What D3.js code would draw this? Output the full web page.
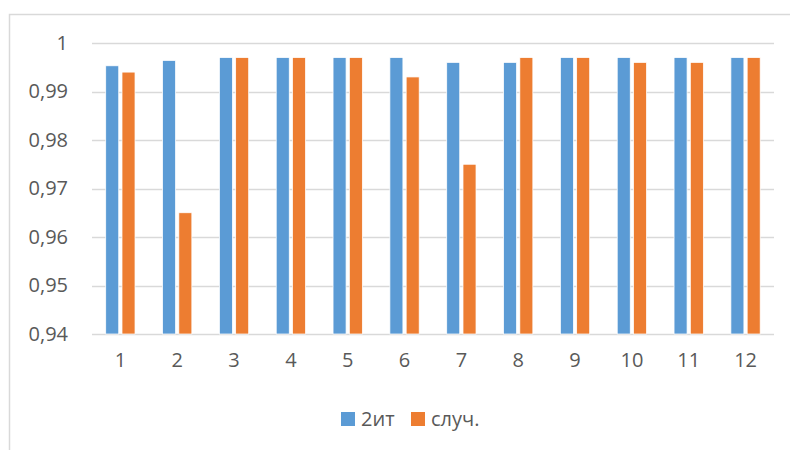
<!DOCTYPE html>
<html>
<head>
<meta charset="utf-8">
<script src="https://cdn.jsdelivr.net/npm/d3@7"></script>
<style>
  html, body { margin: 0; padding: 0; background: #fff; }
  svg { display: block; }
  text { font-family: "Open Sans", "Noto Sans", sans-serif; fill: #595959; }
</style>
</head>
<body>
<svg id="chart" width="790" height="450"></svg>
<script>
// Categories and series
const categories = ["1","2","3","4","5","6","7","8","9","10","11","12"];
const seriesNames = ["2ит", "случ."];
const values2it = [0.9953, 0.9964, 0.997, 0.997, 0.997, 0.997, 0.996, 0.996, 0.997, 0.997, 0.997, 0.997];
const valuesSluch = [0.994, 0.965, 0.997, 0.997, 0.997, 0.993, 0.975, 0.997, 0.997, 0.996, 0.996, 0.997];
const yTicks = [0.94, 0.95, 0.96, 0.97, 0.98, 0.99, 1];
const colors = ["#5B9BD5", "#ED7D31"];

const FONT = "\"Open Sans\", \"Noto Sans\", sans-serif";
const FONT_SIZE = 20;

const svg = d3.select("#chart");

// Chart frame
svg.append("rect")
  .attr("x", 9.5).attr("y", 14.5)
  .attr("width", 820).attr("height", 460)
  .attr("fill", "none").attr("stroke", "#d9d9d9").attr("stroke-width", 1.5);

const plot = { left: 92, right: 774, top: 43, bottom: 334 };

const x0 = d3.scaleBand().domain(categories).range([plot.left, plot.right]);
const x1 = d3.scaleBand().domain(seriesNames).range([-14.7, 14.6]).paddingInner(0.2);
const y = d3.scaleLinear().domain([0.94, 1]).range([plot.bottom, plot.top]);

const fmt = v => d3.format("")(v).replace(".", ",");

// Gridlines
svg.append("g")
  .selectAll("line")
  .data(yTicks)
  .join("line")
  .attr("x1", plot.left).attr("x2", plot.right)
  .attr("y1", d => Math.round(y(d)) + 0.5).attr("y2", d => Math.round(y(d)) + 0.5)
  .attr("stroke", "#d9d9d9").attr("stroke-width", 1.5);

// Y axis labels
const yAxis = d3.axisLeft(y).tickValues(yTicks).tickFormat(fmt).tickSize(0).tickPadding(0);
const gy = svg.append("g").attr("transform", `translate(${68},0)`).call(yAxis);
gy.select(".domain").remove();
gy.selectAll("text").attr("font-size", FONT_SIZE).attr("fill", "#595959").attr("font-family", FONT);

// X axis labels
const xAxis = d3.axisBottom(x0).tickSize(0).tickPadding(0);
const gx = svg.append("g").attr("transform", `translate(0,${353})`).call(xAxis);
gx.select(".domain").remove();
gx.selectAll("text").attr("font-size", FONT_SIZE).attr("fill", "#595959").attr("font-family", FONT);

// Bars
const seriesData = [values2it, valuesSluch];
seriesNames.forEach((name, si) => {
  svg.append("g")
    .selectAll("rect")
    .data(categories.map((c, i) => ({ c, v: seriesData[si][i] })))
    .join("rect")
    .attr("x", d => x0(d.c) + x0.bandwidth() / 2 + x1(name))
    .attr("width", x1.bandwidth())
    .attr("y", d => y(d.v))
    .attr("height", d => y(0.94) - y(d.v))
    .attr("fill", colors[si])
    .attr("stroke", "#ffffff").attr("stroke-width", 0.75);
});

// Legend
const legendItems = [
  { name: seriesNames[0], color: colors[0], x: 341 },
  { name: seriesNames[1], color: colors[1], x: 411 }
];
const lg = svg.append("g");
legendItems.forEach(it => {
  lg.append("rect").attr("x", it.x).attr("y", 412).attr("width", 14).attr("height", 14).attr("fill", it.color);
  lg.append("text").attr("x", it.x + 20).attr("y", 426).attr("font-size", FONT_SIZE).attr("font-family", FONT).text(it.name);
});
</script>
</body>
</html>
